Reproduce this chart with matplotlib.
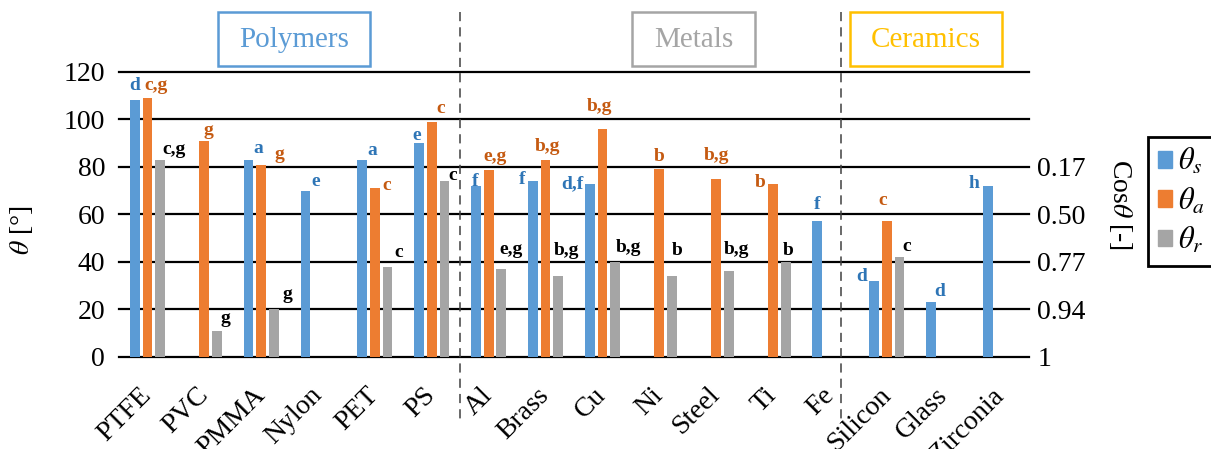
import numpy as np
import matplotlib.pyplot as plt
from matplotlib.patches import Rectangle, Patch
from matplotlib.transforms import blended_transform_factory

# data
cats = ['PTFE', 'PVC', 'PMMA', 'Nylon', 'PET', 'PS', 'Al', 'Brass', 'Cu', 'Ni',
        'Steel', 'Ti', 'Fe', 'Silicon', 'Glass', 'Zirconia']
nan = np.nan
theta_s = [108, nan, 83, 70, 83, 90, 72, 74, 73, nan, nan, nan, 57, 32, 23, 72]
theta_a = [109, 91, 81, nan, 71, 99, 78.5, 83, 96, 79, 75, 73, nan, 57, nan, nan]
theta_r = [83, 11, 20, nan, 38, 74, 37, 34, 40, 34, 36, 40, nan, 42, nan, nan]
refs_s = ['d', '', 'a', 'e', 'a', 'e', 'f', 'f', 'd,f', '', '', '', 'f', 'd', 'd', 'h']
refs_a = ['c,g', 'g', 'g', '', 'c', 'c', 'e,g', 'b,g', 'b,g', 'b', 'b,g', 'b', '', 'c', '', '']
refs_r = ['c,g', 'g', 'g', '', 'c', 'c', 'e,g', 'b,g', 'b,g', 'b', 'b,g', 'b', '', 'c', '', '']
right_ticks = [0, 20, 40, 60, 80]
right_labels = ['1', '0.94', '0.77', '0.50', '0.17']
groups = ['Polymers', 'Metals', 'Ceramics']

# label offsets in pixels (dx from bar centre, baseline above bar top)
off_s = [(0, 10), None, (10, 7), (10, 5), (10, 5), (-2, 3), (-1, 0), (-11, -3), (-17, -5),
         None, None, None, (0, 12), (-12, 0), (9, 6), (-14, -2)]
off_a = [(9, 8), (4, 6), (18, 6), None, (12, -2), (9, 9), (6, 9), (2, 9), (-3, 18),
         (0, 8), (0, 19), (-13, -3), None, (-4, 16), None, None]
off_r = [(14, 6), (8, 8), (14, 10), None, (11, 10), (8, 1), (10, 15), (8, 21), (13, 10),
         (5, 21), (8, 17), (2, 7), None, (7, 6), None, None]

blue, orange, gray = '#5B9BD5', '#ED7D31', '#A5A5A5'
plt.rcParams['font.family'] = 'Liberation Serif'
plt.rcParams['mathtext.fontset'] = 'stix'

W, H = 1211, 449
fig = plt.figure(figsize=(W / 100, H / 100), dpi=100)
ax = fig.add_axes([119 / W, 1 - 356.7 / H, (1029 - 119) / W, (356.7 - 72) / H])

x = np.arange(len(cats))
bw, sh = 0.17, 0.222
series = [(theta_s, refs_s, off_s, blue, '#2E75B6', -sh),
          (theta_a, refs_a, off_a, orange, '#C55A11', 0),
          (theta_r, refs_r, off_r, gray, 'black', sh)]
for vals, refs, offs, col, tcol, dx in series:
    vals = np.array(vals, dtype=float)
    m = ~np.isnan(vals)
    ax.bar(x[m] + dx, vals[m], bw, color=col, zorder=3)
    for i in np.where(m)[0]:
        if refs[i]:
            ax.annotate(refs[i], (x[i] + dx, vals[i]), xytext=offs[i], textcoords='offset pixels',
                        ha='center', va='baseline', fontsize=14, fontweight='bold',
                        color=tcol, zorder=4)

for yv in range(0, 121, 20):
    ax.axhline(yv, color='black', lw=1.6, zorder=1, clip_on=False)

ax.set_xlim(-0.5, 15.5)
ax.set_ylim(0, 120)
ax.set_yticks(range(0, 121, 20))
ax.set_xticks(x)
ax.set_xticklabels(cats, rotation=45, ha='right', va='center', rotation_mode='anchor')
ax.tick_params(axis='x', length=0, pad=25, labelsize=20)
ax.tick_params(axis='y', length=0, pad=10, labelsize=20)
for s in ax.spines.values():
    s.set_visible(False)
ax.set_ylabel(r'$\theta$ [°]', fontsize=20)
ax.yaxis.set_label_coords(-0.092, 0.445)

ax2 = ax.twinx()
ax2.set_ylim(0, 120)
ax2.set_yticks(right_ticks)
ax2.set_yticklabels(right_labels)
ax2.tick_params(axis='y', length=0, pad=6, labelsize=20)
for s in ax2.spines.values():
    s.set_visible(False)
ax2.set_ylabel(r'Cos$\theta$ [-]', fontsize=20, rotation=270, va='center')
ax2.yaxis.set_label_coords(1.10, 0.533)

# dashed separators
tr = blended_transform_factory(ax.transData, fig.transFigure)
for xs in [5.5, 12.2]:
    ax.plot([xs, xs], [1 - 12 / H, 1 - 420 / H], transform=tr, clip_on=False,
            color='#404040', lw=1.1, ls=(0, (6, 4)))

# group boxes
boxes = [(218, 370, blue), (632, 755, gray), (850, 1002, '#FFC000')]
for name, (x0, x1, col) in zip(groups, boxes):
    fig.patches.append(Rectangle((x0 / W, 1 - 66 / H), (x1 - x0) / W, 54 / H,
                                 transform=fig.transFigure, fill=False, edgecolor=col, lw=1.8))
    fig.text((x0 + x1) / 2 / W, 1 - 40 / H, name, ha='center', va='center', fontsize=21, color=col)

handles = [Patch(color=blue), Patch(color=orange), Patch(color=gray)]
leg = fig.legend(handles, [r'$\theta_s$', r'$\theta_a$', r'$\theta_r$'], loc='upper left',
                 bbox_to_anchor=(1148 / W, 1 - 137 / H), fancybox=False, edgecolor='black',
                 fontsize=22, handlelength=0.46, handleheight=0.46, handletextpad=0.2,
                 labelspacing=0.3, borderpad=0.33, borderaxespad=0, framealpha=1)
leg.get_frame().set_linewidth(2)

fig.savefig('out.png', dpi=100)
